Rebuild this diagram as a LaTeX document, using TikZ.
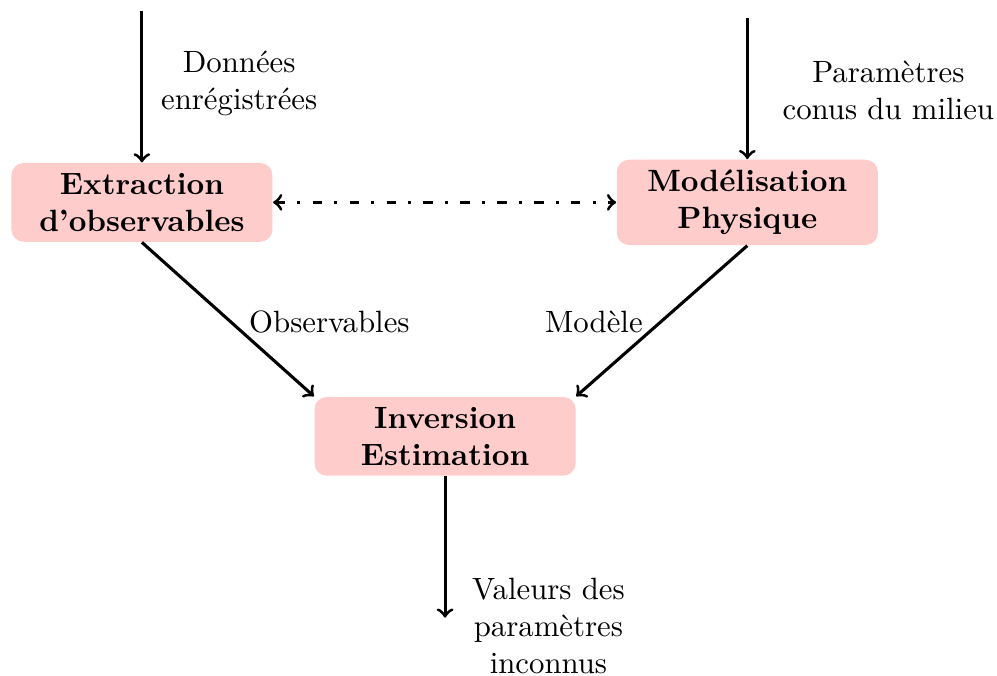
\documentclass[tikz,border=0pt]{standalone}
\usepackage{amsmath,amssymb}
\usepackage{tikz}
\usetikzlibrary{positioning}

\begin{document}
\begin{tikzpicture}[
		bloc/.style={fill=red!20, rounded corners=4pt, minimum width=2.98cm, align=center, font=\bfseries},
		etiq/.style={align=center},
		fleche/.style={line width=1pt,->}]
				%Bounding box
				\useasboundingbox (-5.08,-2.73) rectangle (6.30,4.98);
				
				%Nodes
				\node[bloc] (extr) at (-3.46,2.67) {Extraction\\d'observables};
				\node[bloc] (modl) at (3.45,2.67) {Modélisation\\Physique};
				\node[bloc] (inv) at (0,0) {Inversion\\Estimation};
				\node[etiq] (donn) at (-2.35,4.03) {Données\\enrégistrées};
				\node[etiq] (param) at (5.06,3.95) {Paramètres\\conus du milieu};
				\node[etiq] (obs) at (-1.32,1.31) {Observables};
				\node[etiq] (mod) at (1.70,1.31) {Modèle};
				\node[etiq] (val) at (1.18,-2.16) {Valeurs des\\paramètres\\inconnus};
				\coordinate      (e0) 	at 	(-3.46,4.86);
				\coordinate      (m0) 	at 	(3.45,4.77);
				\coordinate      (s0) 	at 	(0,-2.07);
				
				%Lines
				\draw[fleche] (e0) -- (extr.north);
				\draw[fleche] (m0) -- (modl.north);
				\draw[fleche] (extr.south) -- (inv.north west);
				\draw[fleche] (modl.south) -- (inv.north east);
				\draw[fleche] (inv.south) -- (s0);
				\draw[fleche,<->,loosely dash dot] (extr) -- (modl);
\end{tikzpicture}
\end{document}
